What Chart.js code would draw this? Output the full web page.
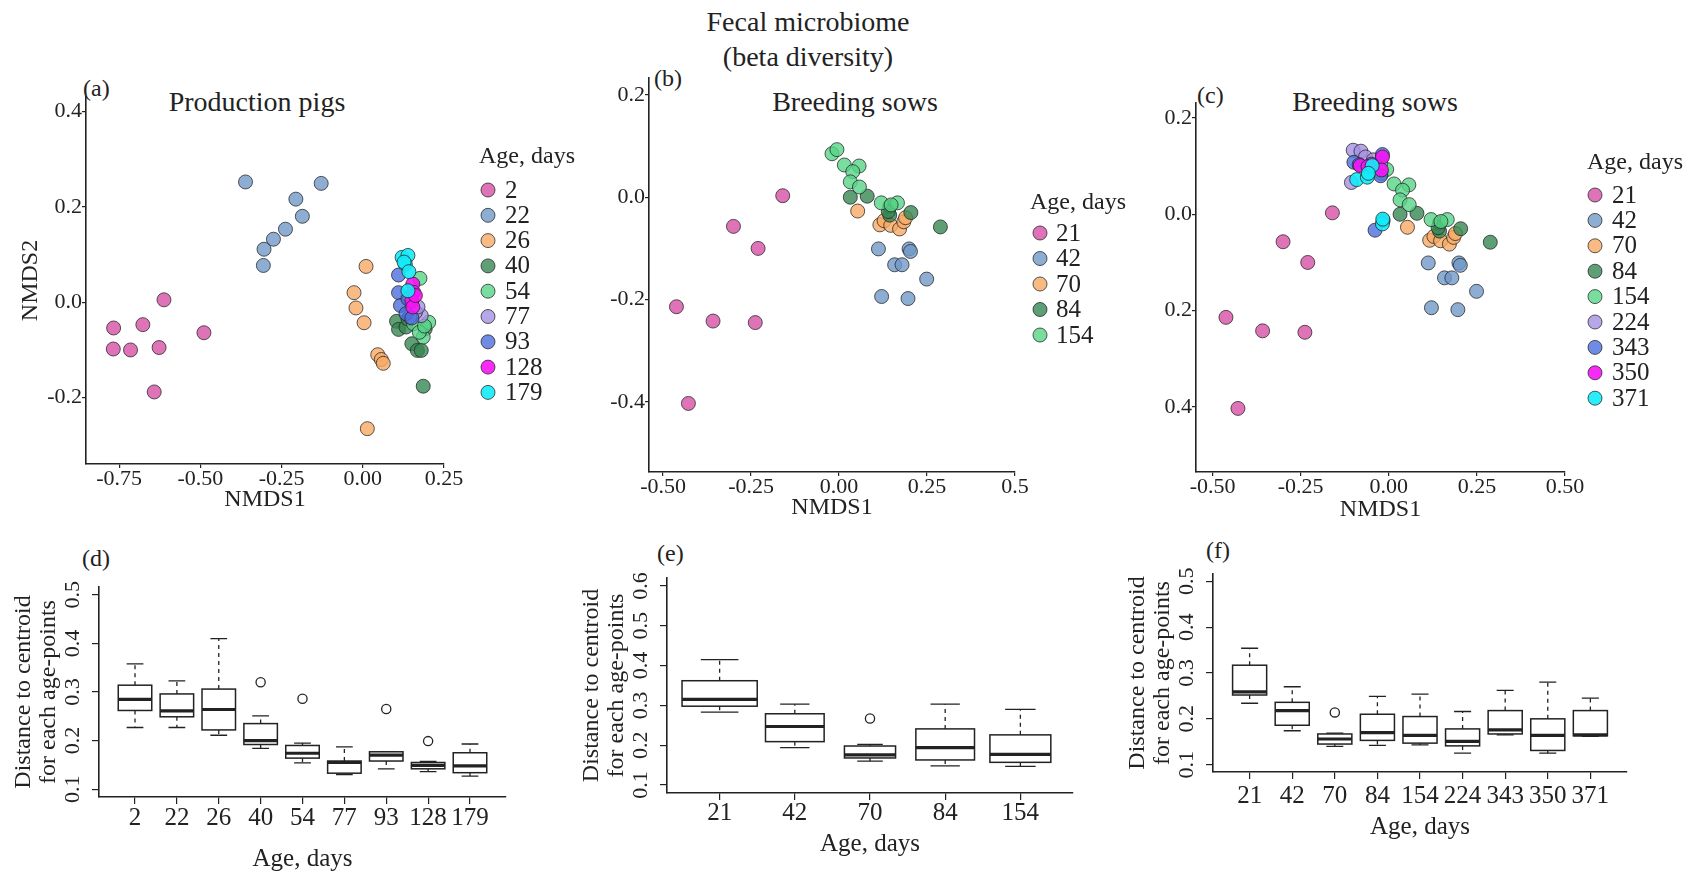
<!DOCTYPE html>
<html>
<head>
<meta charset="utf-8">
<title>Fecal microbiome (beta diversity)</title>
<script src="https://cdn.jsdelivr.net/npm/chart.js@4.4.1/dist/chart.umd.min.js"></script>
<style>
  html, body { margin: 0; background: #fff; }
  #fig { position: relative; width: 1696px; height: 874px; overflow: hidden;
         font-family: 'Liberation Serif', 'Times New Roman', serif; color: #222; }
  #fig canvas { position: absolute; }
  .t { position: absolute; white-space: nowrap; line-height: 1; }
</style>
</head>
<body>
<div id="fig">
  <div class="t" style="left:608px;width:400px;text-align:center;top:8px;font-size:28px">Fecal microbiome</div>
  <div class="t" style="left:608px;width:400px;text-align:center;top:43px;font-size:28px">(beta diversity)</div>

  <div class="t" style="left:83px;top:76px;font-size:24px">(a)</div>
  <div class="t" style="left:157px;width:200px;text-align:center;top:88px;font-size:28px">Production pigs</div>
  <div class="t" style="left:654px;top:66px;font-size:24px">(b)</div>
  <div class="t" style="left:755px;width:200px;text-align:center;top:88px;font-size:28px">Breeding sows</div>
  <div class="t" style="left:1197px;top:83px;font-size:24px">(c)</div>
  <div class="t" style="left:1275px;width:200px;text-align:center;top:88px;font-size:28px">Breeding sows</div>

  <div class="t" style="left:82px;top:546px;font-size:24px">(d)</div>
  <div class="t" style="left:657px;top:541px;font-size:24px">(e)</div>
  <div class="t" style="left:1206px;top:538px;font-size:24px">(f)</div>

  <canvas id="chartA"></canvas>
  <canvas id="chartB"></canvas>
  <canvas id="chartC"></canvas>
  <canvas id="chartD"></canvas>
  <canvas id="chartE"></canvas>
  <canvas id="chartF"></canvas>
</div>

<script>
'use strict';

// ── NMDS points, production pigs (a) ─────────────────
const pigAges = ['2', '22', '26', '40', '54', '77', '93', '128', '179'];
const pig2   = [[-0.767,-0.054],[-0.715,-0.100],[-0.768,-0.098],[-0.677,-0.047],[-0.627,-0.095],[-0.612,0.005],[-0.489,-0.064],[-0.642,-0.188]];
const pig22  = [[-0.361,0.252],[-0.128,0.249],[-0.206,0.216],[-0.186,0.180],[-0.238,0.153],[-0.275,0.132],[-0.304,0.111],[-0.306,0.077]];
const pig26  = [[0.010,0.075],[-0.027,0.020],[-0.021,-0.012],[0.004,-0.043],[0.046,-0.110],[0.057,-0.120],[0.063,-0.128],[0.014,-0.265]];
const pig40  = [[0.104,-0.040],[0.110,-0.057],[0.133,-0.052],[0.151,-0.087],[0.168,-0.101],[0.180,-0.101],[0.186,-0.176],[0.192,-0.056],[0.139,-0.035]];
const pig54  = [[0.176,0.050],[0.203,-0.042],[0.186,-0.073],[0.156,-0.045],[0.174,-0.063],[0.190,-0.050]];
const pig77  = [[0.180,-0.028],[0.162,-0.021],[0.145,-0.031],[0.170,-0.010]];
const pig93  = [[0.110,0.057],[0.110,0.020],[0.116,-0.007],[0.133,-0.024],[0.151,-0.033],[0.139,0.007]];
const pig128 = [[0.154,0.038],[0.156,0.021],[0.151,0.003],[0.154,-0.010],[0.162,0.014]];
const pig179 = [[0.121,0.094],[0.139,0.098],[0.131,0.080],[0.127,0.084],[0.142,0.064],[0.139,0.024]];

// ── NMDS points, breeding sows (b, c) ────────────────
const sowAges = ['21', '42', '70', '84', '154', '224', '343', '350', '371'];
const sow21  = [[-0.160,0.003],[-0.300,-0.057],[-0.230,-0.100],[-0.462,-0.214],[-0.358,-0.242],[-0.238,-0.245],[-0.428,-0.403]];
const sow42  = [[0.112,-0.101],[0.199,-0.101],[0.203,-0.106],[0.158,-0.132],[0.179,-0.132],[0.249,-0.160],[0.121,-0.194],[0.196,-0.198]];
const sow70  = [[0.053,-0.027],[0.116,-0.054],[0.128,-0.046],[0.147,-0.055],[0.172,-0.062],[0.184,-0.048],[0.189,-0.040]];
const sow84  = [[0.032,0.000],[0.080,0.002],[0.144,-0.035],[0.144,-0.018],[0.204,-0.030],[0.288,-0.058],[0.140,-0.028]];
const sow154 = [[-0.020,0.085],[-0.006,0.093],[0.015,0.063],[0.057,0.061],[0.039,0.050],[0.032,0.030],[0.058,0.020],[0.120,-0.011],[0.166,-0.011],[0.148,-0.015]];
const sow224 = [[-0.101,0.133],[-0.079,0.131],[-0.106,0.066],[-0.066,0.119],[-0.044,0.113],[-0.023,0.106]];
const sow343 = [[-0.099,0.108],[-0.084,0.103],[-0.018,0.124],[-0.023,0.080],[-0.039,-0.033],[-0.016,-0.013]];
const sow350 = [[-0.018,0.119],[-0.081,0.101],[-0.021,0.092],[-0.049,0.104],[-0.059,0.099]];
const sow371 = [[-0.091,0.072],[-0.061,0.077],[-0.047,0.101],[-0.058,0.085],[-0.018,-0.020],[-0.017,-0.010]];

// ── Group colours (same order in every panel) ────────
const groupColors = [
  'rgba(216,90,172,0.85)',   // pink
  'rgba(112,152,200,0.80)',  // steel blue
  'rgba(248,170,100,0.80)',  // orange
  'rgba(55,135,82,0.80)',    // dark green
  'rgba(88,212,136,0.80)',   // light green
  'rgba(165,145,228,0.80)',  // lavender
  'rgba(75,110,220,0.80)',   // blue
  'rgba(245,20,245,0.90)',   // magenta
  'rgba(20,235,250,0.90)',   // cyan
];

// ── Scatter axis ticks ───────────────────────────────
const aXTicks = [-0.75, -0.5, -0.25, 0, 0.25];
const aXLabels = ['-0.75', '-0.50', '-0.25', '0.00', '0.25'];
const aYTicks = [-0.2, 0, 0.2, 0.4];
const aYLabels = ['-0.2', '0.0', '0.2', '0.4'];
const bXTicks = [-0.5, -0.25, 0, 0.25, 0.5];
const bXLabels = ['-0.50', '-0.25', '0.00', '0.25', '0.5'];
const bYTicks = [-0.4, -0.2, 0, 0.2];
const bYLabels = ['-0.4', '-0.2', '0.0', '0.2'];
const cXLabels = ['-0.50', '-0.25', '0.00', '0.25', '0.50'];
const cYLabels = ['0.4', '0.2', '0.0', '0.2'];

// ── Distance to centroid, production pigs (d) ────────
const dLow  = [0.227, 0.227, 0.211, 0.184, 0.154, 0.130, 0.142, 0.136, 0.127];
const dQ1   = [0.262, 0.249, 0.222, 0.192, 0.164, 0.133, 0.158, 0.142, 0.134];
const dMed  = [0.285, 0.261, 0.264, 0.200, 0.174, 0.155, 0.170, 0.149, 0.148];
const dQ3   = [0.314, 0.296, 0.306, 0.235, 0.190, 0.158, 0.177, 0.155, 0.175];
const dHigh = [0.358, 0.323, 0.410, 0.251, 0.195, 0.187, 0.177, 0.157, 0.193];
const dOut  = [[], [], [], [0.320], [0.286], [], [0.265], [0.199], []];

// ── Distance to centroid, breeding sows (e) ──────────
const eAges = ['21', '42', '70', '84', '154'];
const eLow  = [0.283, 0.194, 0.160, 0.148, 0.147];
const eQ1   = [0.298, 0.209, 0.168, 0.163, 0.157];
const eMed  = [0.315, 0.247, 0.176, 0.194, 0.177];
const eQ3   = [0.362, 0.279, 0.198, 0.241, 0.226];
const eHigh = [0.415, 0.303, 0.202, 0.303, 0.290];
const eOut  = [[], [], [0.267], [], []];
const eWidths = [1.0, 0.78, 0.68, 0.78, 0.81];

// ── Distance to centroid, breeding sows (f) ──────────
const fLow  = [0.234, 0.174, 0.140, 0.142, 0.143, 0.125, 0.165, 0.125, 0.162];
const fQ1   = [0.252, 0.186, 0.145, 0.153, 0.147, 0.141, 0.167, 0.131, 0.163];
const fMed  = [0.259, 0.218, 0.156, 0.170, 0.164, 0.151, 0.176, 0.164, 0.165];
const fQ3   = [0.317, 0.236, 0.167, 0.210, 0.205, 0.178, 0.218, 0.200, 0.218];
const fHigh = [0.354, 0.270, 0.169, 0.249, 0.254, 0.216, 0.262, 0.280, 0.245];
const fOut  = [[], [], [0.214], [], [], [], [], [], []];

const boxYTicks5 = [0.1, 0.2, 0.3, 0.4, 0.5];
const boxYTicks6 = [0.1, 0.2, 0.3, 0.4, 0.5, 0.6];

// ── Defaults ─────────────────────────────────────────
const FONT = "'Liberation Serif', 'Times New Roman', serif";
const INK = '#222';
Chart.defaults.font.family = FONT;
Chart.defaults.color = INK;
Chart.defaults.animation = false;

// ── Legend drawn beside the scatter panels ───────────
const ageLegend = {
  id: 'ageLegend',
  afterDraw(chart, args, o) {
    if (!o || !o.title) return;
    const ctx = chart.ctx;
    ctx.save();
    ctx.textAlign = 'left';
    ctx.textBaseline = 'middle';
    ctx.fillStyle = INK;
    ctx.font = '24px ' + FONT;
    ctx.fillText(o.title, o.x, o.y);
    ctx.font = '25px ' + FONT;
    chart.data.datasets.forEach((ds, i) => {
      const yy = o.y0 + i * o.step;
      ctx.beginPath();
      ctx.arc(o.mx, yy, 7, 0, Math.PI * 2);
      ctx.fillStyle = ds.backgroundColor;
      ctx.fill();
      ctx.lineWidth = 1;
      ctx.strokeStyle = ds.borderColor;
      ctx.stroke();
      ctx.fillStyle = INK;
      ctx.fillText(ds.label, o.lx, yy + 1);
    });
    ctx.restore();
  }
};

// ── Box + whiskers drawn through the chart scales ────
const boxPlot = {
  id: 'boxPlot',
  afterDatasetsDraw(chart, args, o) {
    if (!o || !o.med) return;
    const { ctx, scales: { x, y } } = chart;
    const unit = x.getPixelForValue(1) - x.getPixelForValue(0);
    ctx.save();
    ctx.strokeStyle = INK;
    o.med.forEach((m, i) => {
      const cx = x.getPixelForValue(i + 1);
      const hw = (o.widths ? o.widths[i] : 0.8) * unit / 2;
      const yLo = y.getPixelForValue(o.low[i]);
      const yQ1 = y.getPixelForValue(o.q1[i]);
      const yMd = y.getPixelForValue(m);
      const yQ3 = y.getPixelForValue(o.q3[i]);
      const yHi = y.getPixelForValue(o.high[i]);

      // dashed whiskers
      ctx.lineWidth = 1.3;
      ctx.setLineDash([4, 4]);
      ctx.beginPath();
      ctx.moveTo(cx, yQ3); ctx.lineTo(cx, yHi);
      ctx.moveTo(cx, yQ1); ctx.lineTo(cx, yLo);
      ctx.stroke();

      // staples
      ctx.setLineDash([]);
      ctx.beginPath();
      ctx.moveTo(cx - hw / 2, yHi); ctx.lineTo(cx + hw / 2, yHi);
      ctx.moveTo(cx - hw / 2, yLo); ctx.lineTo(cx + hw / 2, yLo);
      ctx.stroke();

      // box
      ctx.fillStyle = '#fff';
      ctx.fillRect(cx - hw, yQ3, hw * 2, yQ1 - yQ3);
      ctx.lineWidth = 1.5;
      ctx.strokeRect(cx - hw, yQ3, hw * 2, yQ1 - yQ3);

      // median
      ctx.lineWidth = 3.2;
      ctx.beginPath();
      ctx.moveTo(cx - hw, yMd); ctx.lineTo(cx + hw, yMd);
      ctx.stroke();
    });
    ctx.restore();
  }
};

// ── Helpers ──────────────────────────────────────────
function place(id, rect) {
  const c = document.getElementById(id);
  c.width = rect[2];
  c.height = rect[3];
  c.style.left = rect[0] + 'px';
  c.style.top = rect[1] + 'px';
  c.style.width = rect[2] + 'px';
  c.style.height = rect[3] + 'px';
  return c;
}

// padding so that the plot area lands on `area` (page coords)
function padFor(rect, area, yW, xH) {
  return {
    left: area[0] - rect[0] - yW,
    top: area[1] - rect[1],
    right: rect[0] + rect[2] - area[2],
    bottom: rect[1] + rect[3] - area[3] - xH,
  };
}

function axisLine(tickLength) {
  return {
    grid: { drawOnChartArea: false, drawTicks: true, tickLength: tickLength, color: INK, lineWidth: 1.2 },
    border: { display: true, color: INK, width: 1.6 },
  };
}

// ── Scatter panel ────────────────────────────────────
function scatterPanel(id, s) {
  const canvas = place(id, s.rect);
  const n = s.groups.length;
  const datasets = s.groups.map((pts, i) => ({
    label: s.ages[i],
    data: pts.map(p => ({ x: p[0], y: p[1] })),
    backgroundColor: groupColors[i],
    borderColor: 'rgba(35,35,35,0.75)',
    borderWidth: 1,
    pointRadius: 7,
    pointHoverRadius: 7,
    order: n - i,
  }));

  return new Chart(canvas, {
    type: 'scatter',
    data: { datasets },
    options: {
      responsive: false,
      layout: { padding: padFor(s.rect, s.area, s.yW, s.xH), autoPadding: false },
      plugins: {
        legend: { display: false },
        tooltip: { enabled: false },
        ageLegend: {
          title: 'Age, days',
          x: s.legend.x - s.rect[0], y: s.legend.y - s.rect[1],
          mx: s.legend.mx - s.rect[0], lx: s.legend.lx - s.rect[0],
          y0: s.legend.y0 - s.rect[1], step: s.legend.step,
        },
      },
      scales: {
        x: {
          type: 'linear', min: s.xRange[0], max: s.xRange[1], bounds: 'data',
          afterBuildTicks: sc => { sc.ticks = s.xTicks.map(v => ({ value: v })); },
          afterFit: sc => { sc.height = s.xH; },
          ticks: { callback: (v, i) => s.xLabels[i], autoSkip: false, maxRotation: 0, minRotation: 0,
                   padding: 0, font: { size: 22, lineHeight: 1 } },
          title: { display: true, text: 'NMDS1', padding: 0, font: { size: 24, lineHeight: 1 } },
          ...axisLine(4),
        },
        y: {
          type: 'linear', min: s.yRange[0], max: s.yRange[1], bounds: 'data',
          afterBuildTicks: sc => { sc.ticks = s.yTicks.map(v => ({ value: v })); },
          afterFit: sc => { sc.width = s.yW; },
          ticks: { callback: (v, i) => s.yLabels[i], autoSkip: false, padding: 0,
                   font: { size: 22, lineHeight: 1 } },
          title: { display: !!s.yTitle, text: s.yTitle || '', padding: 0, font: { size: 24, lineHeight: 1 } },
          ...axisLine(4),
        },
      },
    },
    plugins: [ageLegend],
  });
}

// ── Box plot panel ───────────────────────────────────
function boxPanel(id, s) {
  const canvas = place(id, s.rect);
  const n = s.cats.length;
  const outliers = [];
  s.out.forEach((arr, i) => arr.forEach(v => outliers.push({ x: i + 1, y: v })));
  const widen = n * 0.04;   // R widens xlim by 4 %

  return new Chart(canvas, {
    type: 'scatter',
    data: {
      datasets: [{
        label: 'outliers', data: outliers,
        backgroundColor: 'rgba(0,0,0,0)', borderColor: INK, borderWidth: 1.3,
        pointRadius: 4.6, pointHoverRadius: 4.6,
      }],
    },
    options: {
      responsive: false,
      layout: { padding: padFor(s.rect, s.area, 88, s.xH), autoPadding: false },
      plugins: {
        legend: { display: false },
        tooltip: { enabled: false },
        boxPlot: { low: s.low, q1: s.q1, med: s.med, q3: s.q3, high: s.high, widths: s.widths },
      },
      scales: {
        x: {
          type: 'linear', min: 0.5 - widen, max: n + 0.5 + widen, bounds: 'data',
          afterBuildTicks: sc => { sc.ticks = s.cats.map((c, i) => ({ value: i + 1 })); },
          afterFit: sc => { sc.height = s.xH; },
          ticks: { callback: (v, i) => s.cats[i], autoSkip: false, maxRotation: 0, minRotation: 0,
                   padding: s.tickPad, font: { size: 25, lineHeight: 1 } },
          title: { display: true, text: 'Age, days', padding: 0, font: { size: 25, lineHeight: 1 } },
          ...axisLine(7),
        },
        y: {
          type: 'linear', min: s.yRange[0], max: s.yRange[1], bounds: 'data',
          afterBuildTicks: sc => { sc.ticks = s.yTicks.map(v => ({ value: v })); },
          afterFit: sc => { sc.width = 88; },
          ticks: { callback: v => v.toFixed(1), autoSkip: false, minRotation: 90, maxRotation: 90,
                   crossAlign: 'center', padding: 5, font: { size: 22, lineHeight: 1 } },
          title: { display: true, text: ['Distance to centroid', 'for each age-points'],
                   padding: 0, font: { size: 24, lineHeight: 1.04 } },
          ...axisLine(7),
        },
      },
    },
    plugins: [boxPlot],
  });
}

// ── Top row ──────────────────────────────────────────
scatterPanel('chartA', {
  rect: [0, 60, 580, 470], area: [86, 97, 444, 464], yW: 67, xH: 48,
  xRange: [-0.852, 0.25], yRange: [-0.339, 0.43],
  xTicks: aXTicks, xLabels: aXLabels, yTicks: aYTicks, yLabels: aYLabels, yTitle: 'NMDS2',
  ages: pigAges,
  groups: [pig2, pig22, pig26, pig40, pig54, pig77, pig93, pig128, pig179],
  legend: { x: 479, y: 157, mx: 488, lx: 505, y0: 190, step: 25.3 },
});

scatterPanel('chartB', {
  rect: [560, 60, 580, 470], area: [649, 78, 1015, 472], yW: 60, xH: 48,
  xRange: [-0.54, 0.5], yRange: [-0.537, 0.233],
  xTicks: bXTicks, xLabels: bXLabels, yTicks: bYTicks, yLabels: bYLabels,
  ages: sowAges.slice(0, 5),
  groups: [sow21, sow42, sow70, sow84, sow154],
  legend: { x: 1030, y: 203, mx: 1040, lx: 1056, y0: 233, step: 25.5 },
});

scatterPanel('chartC', {
  rect: [1120, 60, 576, 470], area: [1196, 103, 1565, 472], yW: 60, xH: 50,
  xRange: [-0.547, 0.5], yRange: [-0.535, 0.231],
  xTicks: bXTicks, xLabels: cXLabels, yTicks: bYTicks, yLabels: cYLabels,
  ages: sowAges,
  groups: [sow21, sow42, sow70, sow84, sow154, sow224, sow343, sow350, sow371],
  legend: { x: 1587, y: 163, mx: 1595, lx: 1612, y0: 195, step: 25.4 },
});

// ── Bottom row ───────────────────────────────────────
boxPanel('chartD', {
  rect: [0, 540, 560, 334], area: [99, 587, 506, 797], xH: 75, tickPad: 2,
  cats: pigAges, yRange: [0.084, 0.516], yTicks: boxYTicks5,
  low: dLow, q1: dQ1, med: dMed, q3: dQ3, high: dHigh, out: dOut,
});

boxPanel('chartE', {
  rect: [560, 540, 560, 334], area: [667, 578, 1073, 793], xH: 64, tickPad: 1,
  cats: eAges, yRange: [0.08, 0.62], yTicks: boxYTicks6,
  low: eLow, q1: eQ1, med: eMed, q3: eQ3, high: eHigh, out: eOut, widths: eWidths,
});

boxPanel('chartF', {
  rect: [1120, 540, 576, 334], area: [1213, 574, 1627, 772], xH: 68, tickPad: 5,
  cats: sowAges, yRange: [0.084, 0.516], yTicks: boxYTicks5,
  low: fLow, q1: fQ1, med: fMed, q3: fQ3, high: fHigh, out: fOut,
});
</script>
</body>
</html>
